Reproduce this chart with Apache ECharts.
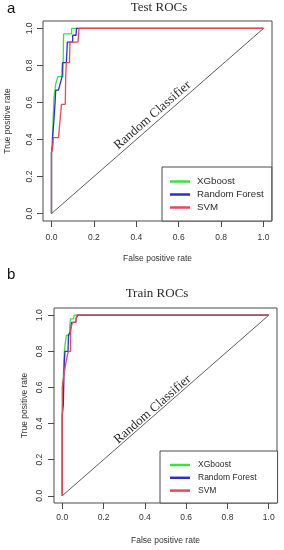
<!DOCTYPE html>
<html><head><meta charset="utf-8">
<script src="https://cdn.jsdelivr.net/npm/echarts@6/dist/echarts.min.js"></script>
<style>html,body{margin:0;padding:0;background:#fff;}#c{width:284px;height:550px;}</style>
</head><body><div id="c"></div>
<script>
// ---- data ----
const seriesNames = ['XGboost', 'Random Forest', 'SVM'];
const axisTicks = [0, 0.2, 0.4, 0.6, 0.8, 1.0];
const diagonal = [[0, 0], [1, 1]];
const panelTitles = ['Test ROCs', 'Train ROCs'];
const panelLetters = ['a', 'b'];
const diagLabel = 'Random Classifier';

// Test ROC curves [FPR, TPR]
const testXGB = [[0,0],[0,0.33],[0.005,0.41],[0.008,0.52],[0.012,0.63],[0.02,0.70],[0.03,0.74],[0.054,0.74],[0.057,0.97],[0.095,0.97],[0.095,1],[1,1]];
const testRF  = [[0,0],[0,0.33],[0.005,0.37],[0.005,0.41],[0.01,0.48],[0.017,0.6],[0.02,0.667],[0.033,0.667],[0.05,0.74],[0.052,0.815],[0.07,0.815],[0.075,0.926],[0.1,0.926],[0.1,0.963],[0.116,0.963],[0.118,1],[1,1]];
const testSVM = [[0,0],[0,0.33],[0.005,0.35],[0.009,0.41],[0.033,0.41],[0.04,0.5],[0.047,0.59],[0.065,0.59],[0.067,0.74],[0.07,0.815],[0.085,0.815],[0.087,0.926],[0.125,0.926],[0.13,1],[1,1]];

// Train ROC curves [FPR, TPR]
const trainXGB = [[0,0],[0,0.42],[0.003,0.55],[0.006,0.68],[0.01,0.8],[0.015,0.85],[0.02,0.89],[0.035,0.89],[0.037,0.95],[0.04,0.98],[0.055,0.98],[0.057,1],[1,1]];
const trainRF  = [[0,0],[0,0.45],[0.005,0.5],[0.008,0.65],[0.01,0.74],[0.013,0.8],[0.028,0.8],[0.03,0.89],[0.04,0.91],[0.045,0.96],[0.065,0.96],[0.068,0.985],[0.075,1],[1,1]];
const trainSVM = [[0,0],[0,0.6],[0.005,0.65],[0.015,0.72],[0.025,0.78],[0.03,0.8],[0.04,0.8],[0.04,0.92],[0.05,0.96],[0.065,0.96],[0.07,1],[1,1]];

// ---- styles ----
const seriesColors = ['#3ee03e', '#2e2ed0', '#e84a55'];
const SANS = '"Liberation Sans", Arial, sans-serif';
const SERIF = '"Liberation Serif", "Times New Roman", serif';
const ink = '#2a2a2a';
const frame = '#4a4a4a';

const panels = [
  { curves: [testXGB, testRF, testSVM],
    grid: {left: 43, top: 21, width: 229, height: 200},
    yNameGap: 31, xNameGap: 33, xLabMargin: 12, yLabMargin: 8.5,
    legend: {left: 162, top: 167, padding: [8, 8, 7, 8], fontSize: 9.7, lineHeight: 13, textPad: 2},
    titleXY: [159, 8], letterXY: [7, 1], diagT: 0.5, diagOff: 7.5 },
  { curves: [trainXGB, trainRF, trainSVM],
    grid: {left: 54, top: 308, width: 223, height: 195},
    yNameGap: 25, xNameGap: 33, xLabMargin: 10, yLabMargin: 9.7,
    legend: {left: 160, top: 451, padding: [7.6, 21, 6, 10], fontSize: 8.5, lineHeight: 12.8, textPad: 3},
    titleXY: [157, 294], letterXY: [7, 267.5], diagT: 0.455, diagOff: 5.5 }
];

const chart = echarts.init(document.getElementById('c'), null, {renderer: 'canvas'});

const grid = [], xAxis = [], yAxis = [], series = [], legend = [];
panels.forEach((p, gi) => {
  grid.push(Object.assign({show: true, borderColor: frame, borderWidth: 1, backgroundColor: 'transparent',
    containLabel: false, outerBoundsMode: 'none'}, p.grid));
  const common = {
    type: 'value', gridIndex: gi, min: -0.04, max: 1.04,
    axisLine: {show: false, onZero: false}, splitLine: {show: false},
    axisTick: {show: true, customValues: axisTicks, length: 6, lineStyle: {color: frame, width: 1}},
    axisLabel: {customValues: axisTicks, formatter: v => v.toFixed(1), fontSize: 8.5, color: '#333', fontFamily: SANS, margin: p.xLabMargin},
    nameLocation: 'middle', nameMoveOverlap: false,
    nameTextStyle: {fontSize: 8.5, color: '#333', fontFamily: SANS}
  };
  xAxis.push(Object.assign({}, common, {position: 'bottom', name: 'False positive rate', nameGap: p.xNameGap}));
  yAxis.push(Object.assign({}, common, {position: 'left', name: 'True positive rate', nameGap: p.yNameGap,
    axisLabel: Object.assign({}, common.axisLabel, {rotate: 90, margin: p.yLabMargin})}));
  series.push({type: 'line', name: 'diag', xAxisIndex: gi, yAxisIndex: gi, data: diagonal, symbol: 'none',
    lineStyle: {color: '#333', width: 0.8}, color: '#333', silent: true, animation: false});
  p.curves.forEach((d, k) => {
    series.push({type: 'line', name: seriesNames[k], xAxisIndex: gi, yAxisIndex: gi, data: d, symbol: 'none',
      color: seriesColors[k], lineStyle: {color: seriesColors[k], width: 1.3}, silent: true, animation: false});
  });
  const L = p.legend;
  legend.push({data: seriesNames, orient: 'vertical', left: L.left, top: L.top, padding: L.padding,
    itemGap: 0, itemWidth: 20, itemHeight: 2.5, icon: 'rect', selectedMode: false,
    borderColor: frame, borderWidth: 1, backgroundColor: '#fff',
    textStyle: {fontSize: L.fontSize, lineHeight: L.lineHeight, color: ink, fontFamily: SANS, padding: [0, 0, 0, L.textPad]}});
});

chart.setOption({animation: false, backgroundColor: '#fff', grid, xAxis, yAxis, series, legend});

const graphic = [];
panels.forEach((p, gi) => {
  graphic.push({type: 'text', x: p.titleXY[0], y: p.titleXY[1],
    style: {text: panelTitles[gi], font: '13px ' + SERIF, fill: ink, align: 'center', verticalAlign: 'middle'}});
  graphic.push({type: 'text', x: p.letterXY[0], y: p.letterXY[1],
    style: {text: panelLetters[gi], font: '15px ' + SANS, fill: '#111', align: 'left', verticalAlign: 'top'}});
  const p0 = chart.convertToPixel({gridIndex: gi}, diagonal[0]);
  const p1 = chart.convertToPixel({gridIndex: gi}, diagonal[1]);
  const pm = chart.convertToPixel({gridIndex: gi}, [p.diagT, p.diagT]);
  const dx = p1[0] - p0[0], dy = p1[1] - p0[1];
  const len = Math.hypot(dx, dy);
  const nx = dy / len, ny = -dx / len;
  graphic.push({type: 'text', x: pm[0] + nx * p.diagOff, y: pm[1] + ny * p.diagOff, rotation: Math.atan2(-dy, dx),
    style: {text: diagLabel, font: '13px ' + SERIF, fill: ink, align: 'center', verticalAlign: 'middle'}});
});
chart.setOption({graphic});
</script>
</body></html>
